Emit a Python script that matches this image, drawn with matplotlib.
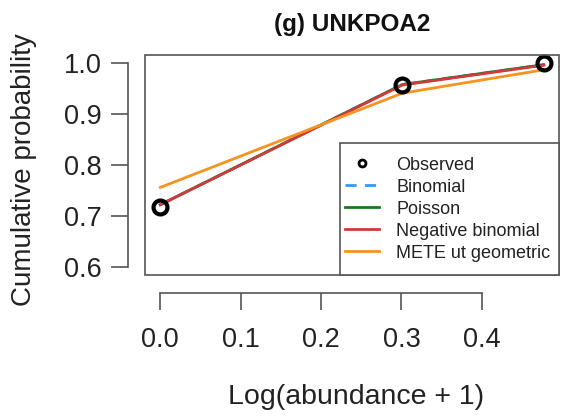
import numpy as np
import matplotlib
matplotlib.use("Agg")
import matplotlib.pyplot as plt
from matplotlib.lines import Line2D
from matplotlib.patches import Rectangle

plt.rcParams['font.family'] = ['Liberation Sans', 'DejaVu Sans']

# abundance classes and cumulative probabilities
abundance = [0, 1, 2]
observed = [0.718, 0.957, 1.0]
binomial = [0.722, 0.958, 0.997]
poisson = [0.722, 0.958, 0.997]
neg_binomial = [0.722, 0.957, 0.996]
mete_geometric = [0.756, 0.941, 0.987]

x_ticks = [0.0, 0.1, 0.2, 0.3, 0.4]
y_ticks = [0.6, 0.7, 0.8, 0.9, 1.0]

log_abund = np.log10(np.array(abundance) + 1)

fig = plt.figure(figsize=(5.61, 4.16), dpi=100)
ax = fig.add_axes([145 / 561, 1 - 275 / 416, 414 / 561, 220 / 416])

ax.plot(log_abund, binomial, color='#3399ff', lw=2, ls=(0, (4, 3)), zorder=2)
ax.plot(log_abund, poisson, color='#1a7a1a', lw=2, zorder=2)
ax.plot(log_abund, neg_binomial, color='#d03a3a', lw=2, zorder=3)
ax.plot(log_abund, mete_geometric, color='#f7931e', lw=2, zorder=4)
ax.plot(log_abund, observed, 'o', ms=10, mfc='none', mec='black', mew=3,
        zorder=5, clip_on=False)

ax.set_xlim(-0.019, 0.496)
ax.set_ylim(0.584, 1.016)

# R style: box around the plot, detached axis lines
axcol = '#555555'
for s in ['top', 'right']:
    ax.spines[s].set_visible(False)
ax.spines['left'].set_position(('outward', 12.2))
ax.spines['bottom'].set_position(('outward', 13))
ax.spines['left'].set_bounds(0.6, 1.0)
ax.spines['bottom'].set_bounds(0.0, 0.4)
for s in ['left', 'bottom']:
    ax.spines[s].set_color(axcol)
    ax.spines[s].set_linewidth(1.2)
ax.add_patch(Rectangle((0, 0), 1, 1, transform=ax.transAxes, fill=False,
                       edgecolor=axcol, lw=1.2, clip_on=False, zorder=6))

ax.set_xticks(x_ticks)
ax.set_yticks(y_ticks)
ax.set_xticklabels([f'{v:.1f}' for v in x_ticks])
ax.set_yticklabels([f'{v:.1f}' for v in y_ticks])
ax.tick_params(axis='both', length=12.2, width=1.2, color=axcol,
               labelsize=19.5, labelcolor='#222222')
ax.tick_params(axis='x', pad=12)
ax.tick_params(axis='y', pad=7)

handles = [
    Line2D([], [], ls='none', marker='o', ms=5, mfc='none', mec='black', mew=2),
    Line2D([], [], color='#3399ff', lw=2, ls=(0, (4, 3))),
    Line2D([], [], color='#1a7a1a', lw=2),
    Line2D([], [], color='#d03a3a', lw=2),
    Line2D([], [], color='#f7931e', lw=2),
]
labels = ['Observed', 'Binomial', 'Poisson', 'Negative binomial',
          'METE ut geometric']

# legend box in the lower right corner, entries placed inside it
ax.add_patch(Rectangle((0.471, 0), 0.529, 0.6, transform=ax.transAxes,
                       facecolor='white', edgecolor=axcol, lw=1.2,
                       clip_on=False, zorder=7))
leg = ax.legend(handles, labels, loc='upper left',
                bbox_to_anchor=(0.483, 0.5386), borderaxespad=0,
                borderpad=0, fontsize=13, handlelength=1.9,
                handletextpad=0.95, labelspacing=0.28, frameon=False)
leg.set_zorder(8)
for t in leg.get_texts():
    t.set_color('#222222')

fig.text(352 / 561, 1 - 25 / 416, '(g) UNKPOA2', fontsize=17.5,
         fontweight='bold', ha='center', va='center', color='#111111')
fig.text(356 / 561, 1 - 397 / 416, 'Log(abundance + 1)', fontsize=20.5,
         ha='center', va='center', color='#222222')
fig.text(24 / 561, 1 - 170 / 416, 'Cumulative probability', fontsize=20,
         rotation=90, ha='center', va='center', color='#222222')

fig.savefig('out.png', dpi=100)
